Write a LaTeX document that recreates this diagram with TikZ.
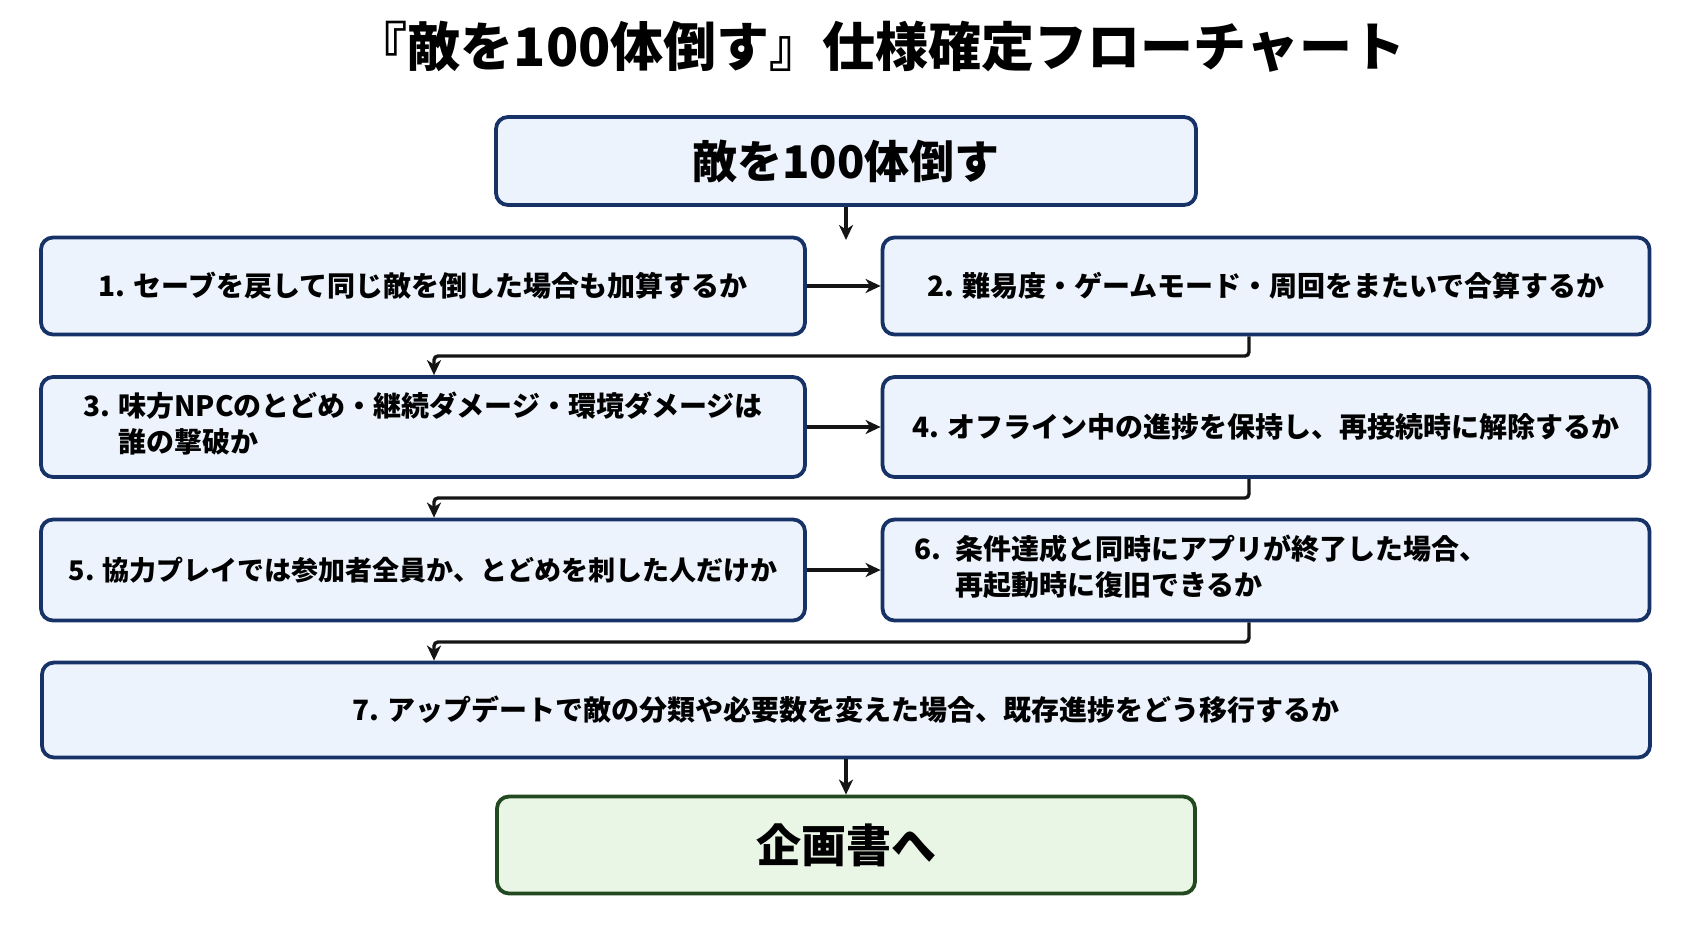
\documentclass[tikz,border=0pt]{standalone}
\usepackage{fontspec}
\setmainfont{Noto Sans CJK JP}
\usepackage{tikz}
\usepackage{xcolor}
\usetikzlibrary{arrows.meta, positioning, calc}

\definecolor{boxline}{HTML}{163267}
\definecolor{boxfill}{HTML}{EDF3FC}
\definecolor{endline}{HTML}{22491F}
\definecolor{endfill}{HTML}{E9F5E5}
\definecolor{flowline}{HTML}{151515}

\tikzset{
  qbox/.style={draw=boxline, fill=boxfill, line width=3.8pt, rounded corners=12pt,
    inner sep=0pt, font=\bfseries\fontsize{28}{36}\selectfont},
  flow/.style={draw=flowline, line width=3.4pt, -{Stealth[length=15pt, width=14pt, inset=4.5pt]}},
}

\begin{document}
\begin{tikzpicture}[x=1pt, y=-1pt]
\useasboundingbox (0,0) rectangle (1693,929);
% title
\node (title) at (880,47) {\bfseries\fontsize{53}{60}\selectfont 『敵を100体倒す』仕様確定フローチャート};
% start / goal
\node[qbox, minimum width=700pt, minimum height=88pt, font=\bfseries\fontsize{45}{50}\selectfont] (goal) at (846,161) {敵を100体倒す};
\node[qbox, draw=endline, fill=endfill, minimum width=698pt, minimum height=97pt, font=\bfseries\fontsize{45}{50}\selectfont] (plan) at (846,845) {企画書へ};
% questions
\node[qbox, minimum width=764pt, minimum height=97pt] (q1) at (423,286) {1. セーブを戻して同じ敵を倒した場合も加算するか};
\node[qbox, minimum width=767pt, minimum height=97pt] (q2) at (1266,286) {2. 難易度・ゲームモード・周回をまたいで合算するか};
\node[qbox, minimum width=764pt, minimum height=100pt] (q3) at (423,427)
  {\begin{tabular}{@{}l@{ }l@{}}3.&味方NPCのとどめ・継続ダメージ・環境ダメージは\\&誰の撃破か\end{tabular}};
\node[qbox, minimum width=767pt, minimum height=100pt] (q4) at (1266,427) {4. オフライン中の進捗を保持し、再接続時に解除するか};
\node[qbox, minimum width=764pt, minimum height=101pt, font=\bfseries\fontsize{27}{36}\selectfont] (q5) at (423,570) {5. 協力プレイでは参加者全員か、とどめを刺した人だけか};
\node[qbox, minimum width=767pt, minimum height=101pt, text width=703pt, align=left] (q6) at (1266,570)
  {\begin{tabular}{@{}l@{ }l@{}}6.&条件達成と同時にアプリが終了した場合、\\&再起動時に復旧できるか\end{tabular}};
\node[qbox, minimum width=1608pt, minimum height=95pt] (q7) at (846,710) {7. アップデートで敵の分類や必要数を変えた場合、既存進捗をどう移行するか};

% connectors
\coordinate (split) at (846,240);
\draw[flow] (goal.south) -- (split);
\draw[flow] (q1) -- (q2);
\draw[flow] (q3) -- (q4);
\draw[flow] (q5) -- (q6);
\draw[flow, rounded corners=4pt] (q2.south -| 1249,0) -- (1249,356) -- (434,356) -- (q3.north -| 434,0);
\draw[flow, rounded corners=4pt] (q4.south -| 1249,0) -- (1249,498) -- (434,498) -- (q5.north -| 434,0);
\draw[flow, rounded corners=4pt] (q6.south -| 1249,0) -- (1249,642) -- (434,642) -- (q7.north -| 434,0);
\draw[flow] (q7.south -| plan.north) -- (plan.north);
\end{tikzpicture}
\end{document}
